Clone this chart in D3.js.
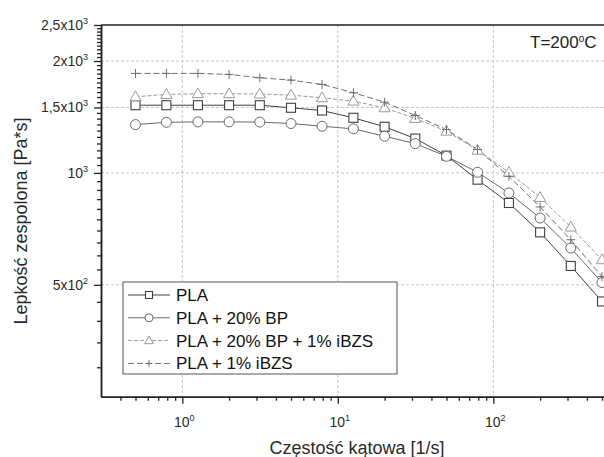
<!DOCTYPE html>
<html>
<head>
<meta charset="utf-8">
<script src="https://cdn.jsdelivr.net/npm/d3@7"></script>
<style>
  body { margin: 0; background: #fff; }
  svg { font-family: "Liberation Sans", Arial, sans-serif; }
</style>
</head>
<body>
<script>
(function (d3) {
  "use strict";

  /***** Data *****/
  var freq = [0.5, 0.79, 1.26, 2, 3.15, 5, 7.92, 12.6, 20, 31.5, 50, 79.2, 126, 200, 315, 500];
  var pla = [1521, 1521, 1521, 1521, 1521, 1497, 1472, 1407, 1331, 1237, 1113, 959, 830, 692, 562, 451];
  var plaBp = [1349, 1368, 1372, 1372, 1370, 1358, 1335, 1314, 1255, 1199, 1108, 1004, 883, 756, 628, 507];
  var plaBpIbzs = [1603, 1626, 1633, 1633, 1630, 1619, 1593, 1560, 1497, 1401, 1295, 1151, 1004, 859, 715, 584];
  var plaIbzs = [1852, 1852, 1852, 1841, 1803, 1777, 1730, 1643, 1550, 1427, 1308, 1156, 979, 810, 661, 526];
  var seriesNames = ["PLA", "PLA + 20% BP", "PLA + 20% BP + 1% iBZS", "PLA + 1% iBZS"];

  var yMajor = [500, 1000, 1500, 2000, 2500];
  var yMajorLabels = [["5x10", "2"], ["10", "3"], ["1,5x10", "3"], ["2x10", "3"], ["2,5x10", "3"]];
  var xMajor = [1, 10, 100];
  var xMajorLabels = [["10", "0"], ["10", "1"], ["10", "2"]];

  /***** Configuration *****/
  var width = 604, height = 457;
  var left = 101, top = 25, bottom = 396.7;

  var x = d3.scaleLog().domain([0.3, 600]).range([left, left + 155.5 * Math.log10(2000)]);
  var y = d3.scaleLog().domain([250, 2500]).range([bottom, top]);

  var yMinor = d3.range(300, 2500, 50).filter(function (v) { return yMajor.indexOf(v) < 0; });
  var xMinor = [];
  [0.1, 1, 10, 100].forEach(function (p) {
    d3.range(2, 10).forEach(function (k) {
      var v = +(k * p).toPrecision(3);
      if (v > 0.3 && v <= 600) xMinor.push(v);
    });
  });

  var series = [
    { name: seriesNames[0], values: pla, shape: "square", stroke: "#404040", dash: null },
    { name: seriesNames[1], values: plaBp, shape: "circle", stroke: "#6a6a6a", dash: null },
    { name: seriesNames[2], values: plaBpIbzs, shape: "triangle", stroke: "#9a9a9a", dash: "4,2" },
    { name: seriesNames[3], values: plaIbzs, shape: "cross", stroke: "#707070", dash: "6,3" }
  ];

  var svg = d3.select("body").append("svg")
    .attr("width", width)
    .attr("height", height);

  /***** Grid *****/
  var grid = svg.append("g").attr("stroke", "#c4c4c4").attr("stroke-dasharray", "3,2").attr("stroke-width", 1);
  xMajor.forEach(function (v) {
    grid.append("line").attr("x1", x(v)).attr("x2", x(v)).attr("y1", top).attr("y2", bottom);
  });
  yMajor.slice(0, 4).forEach(function (v) {
    grid.append("line").attr("x1", left).attr("x2", width).attr("y1", y(v)).attr("y2", y(v));
  });

  /***** Axes *****/
  var yAxisMinor = d3.axisLeft(y).tickValues(yMinor).tickSize(4).tickSizeOuter(0).tickFormat("");
  var yAxisMajor = d3.axisLeft(y).tickValues(yMajor).tickSize(7).tickSizeOuter(0).tickFormat("");
  var xAxisMinor = d3.axisBottom(x).tickValues(xMinor).tickSize(4).tickSizeOuter(0).tickFormat("");
  var xAxisMajor = d3.axisBottom(x).tickValues(xMajor).tickSize(7).tickSizeOuter(0).tickFormat("");

  [yAxisMinor, yAxisMajor].forEach(function (ax) {
    svg.append("g").attr("transform", "translate(" + left + ",0)").call(ax)
      .call(function (g) { g.selectAll("line").attr("stroke", "#222").attr("stroke-width", 1.3); g.select(".domain").attr("stroke", "#222").attr("stroke-width", 1.5); });
  });
  [xAxisMinor, xAxisMajor].forEach(function (ax) {
    svg.append("g").attr("transform", "translate(0," + bottom + ")").call(ax)
      .call(function (g) { g.selectAll("line").attr("stroke", "#222").attr("stroke-width", 1.3); g.select(".domain").attr("stroke", "#222").attr("stroke-width", 1.5); });
  });
  // top frame
  svg.append("line").attr("x1", left).attr("x2", width).attr("y1", top).attr("y2", top)
    .attr("stroke", "#222").attr("stroke-width", 1.5);

  // tick labels
  yMajor.forEach(function (v, i) {
    var t = svg.append("text").attr("x", 88).attr("y", y(v) + 5)
      .attr("text-anchor", "end").attr("font-size", 14).attr("fill", "#2a2a2a");
    t.append("tspan").text(yMajorLabels[i][0]);
    t.append("tspan").attr("font-size", 9).attr("dy", -6).text(yMajorLabels[i][1]);
  });
  xMajor.forEach(function (v, i) {
    var t = svg.append("text").attr("x", x(v) + 2).attr("y", 427)
      .attr("text-anchor", "middle").attr("font-size", 14).attr("fill", "#2a2a2a");
    t.append("tspan").text(xMajorLabels[i][0]);
    t.append("tspan").attr("font-size", 9).attr("dy", -6).text(xMajorLabels[i][1]);
  });

  // axis titles
  svg.append("text").attr("x", 357).attr("y", 454).attr("text-anchor", "middle")
    .attr("font-size", 18).attr("fill", "#2a2a2a").text("Częstość kątowa [1/s]");
  svg.append("text").attr("transform", "translate(27,221) rotate(-90)").attr("text-anchor", "middle")
    .attr("font-size", 18).attr("fill", "#2a2a2a").text("Lepkość zespolona [Pa*s]");

  var tt = svg.append("text").attr("x", 530).attr("y", 48).attr("font-size", 17).attr("fill", "#222");
  tt.append("tspan").text("T=200");
  tt.append("tspan").attr("font-size", 10).attr("dy", -6).text("o");
  tt.append("tspan").attr("dy", 6).text("C");

  /***** Markers *****/
  function drawMarker(g, shape, cx, cy, s, stroke) {
    if (shape === "square") {
      g.append("rect").attr("x", cx - s / 2).attr("y", cy - s / 2).attr("width", s).attr("height", s)
        .attr("fill", "#fff").attr("stroke", stroke).attr("stroke-width", 1.1);
    } else if (shape === "circle") {
      g.append("circle").attr("cx", cx).attr("cy", cy).attr("r", s / 2 + 0.5)
        .attr("fill", "#fff").attr("stroke", stroke).attr("stroke-width", 1);
    } else if (shape === "triangle") {
      var h = s * 1.05;
      g.append("path").attr("d", "M" + cx + "," + (cy - h * 0.62) + "L" + (cx + s * 0.62) + "," + (cy + h * 0.42) +
        "L" + (cx - s * 0.62) + "," + (cy + h * 0.42) + "Z")
        .attr("fill", "#fff").attr("stroke", stroke).attr("stroke-width", 1);
    } else {
      g.append("path").attr("d", "M" + (cx - s / 2) + "," + cy + "H" + (cx + s / 2) + "M" + cx + "," + (cy - s / 2) + "V" + (cy + s / 2))
        .attr("stroke", stroke).attr("stroke-width", 1);
    }
  }

  var line = d3.line()
    .x(function (d) { return x(d[0]); })
    .y(function (d) { return y(d[1]); });

  var plot = svg.append("g");
  series.forEach(function (s) {
    var pts = freq.map(function (f, i) { return [f, s.values[i]]; });
    plot.append("path").datum(pts).attr("d", line).attr("fill", "none")
      .attr("stroke", s.stroke).attr("stroke-width", 1).attr("stroke-dasharray", s.dash);
  });
  series.forEach(function (s) {
    var g = plot.append("g");
    freq.forEach(function (f, i) {
      drawMarker(g, s.shape, x(f), y(s.values[i]), 9, s.stroke);
    });
  });

  /***** Legend *****/
  var legend = svg.append("g");
  legend.append("rect").attr("x", 123).attr("y", 282).attr("width", 274).attr("height", 92)
    .attr("fill", "#fff").attr("stroke", "#555").attr("stroke-width", 1);
  series.forEach(function (s, i) {
    var cy = 295 + i * 22.8;
    legend.append("line").attr("x1", 128).attr("x2", 170).attr("y1", cy).attr("y2", cy)
      .attr("stroke", s.stroke).attr("stroke-width", 1).attr("stroke-dasharray", s.dash);
    drawMarker(legend, s.shape, 149, cy, 7, s.stroke);
    legend.append("text").attr("x", 176).attr("y", cy + 6).attr("font-size", 17).attr("fill", "#111").text(s.name);
  });

})(d3);
</script>
</body>
</html>
